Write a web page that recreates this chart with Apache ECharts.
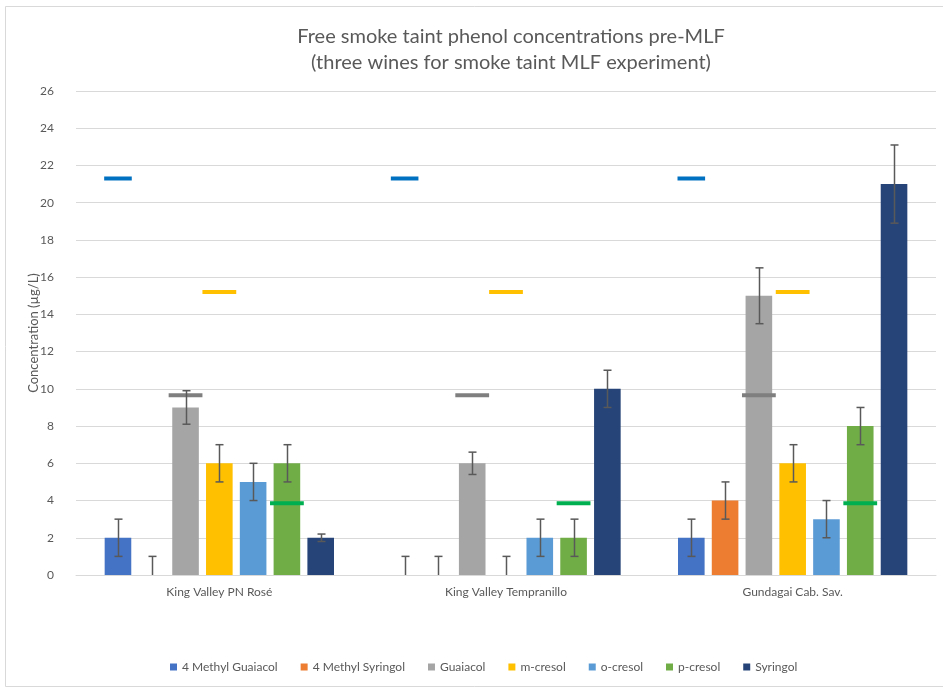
<!DOCTYPE html>
<html>
<head>
<meta charset="utf-8">
<script src="https://cdn.jsdelivr.net/npm/echarts@6/dist/echarts.min.js"></script>
<style>
html,body{margin:0;padding:0;background:#fff;}
#chart{width:943px;height:688px;}
</style>
</head>
<body>
<div id="chart"></div>
<script>
// ---- data ----
const categories = ['King Valley PN Rosé', 'King Valley Tempranillo', 'Gundagai Cab. Sav.'];
const seriesNames = ['4 Methyl Guaiacol', '4 Methyl Syringol', 'Guaiacol', 'm-cresol', 'o-cresol', 'p-cresol', 'Syringol'];

const methylGuaiacol = [2, 0, 2];
const methylSyringol = [0, 0, 4];
const guaiacol = [9, 6, 15];
const mCresol = [6, 0, 6];
const oCresol = [5, 2, 3];
const pCresol = [6, 2, 8];
const syringol = [2, 10, 21];

const methylGuaiacolErr = [1, 1, 1];
const methylSyringolErr = [1, 1, 1];
const guaiacolErr = [0.9, 0.6, 1.5];
const mCresolErr = [1, 1, 1];
const oCresolErr = [1, 1, 1];
const pCresolErr = [1, 1, 1];
const syringolErr = [0.2, 1, 2.1];

// sensory thresholds (drawn as short dashes over the matching compound)
const thresholdCompound = [0, 3, 2, 5];
const thresholdValues = [21.3, 15.2, 9.65, 3.85];

const yTicks = { min: 0, max: 26, interval: 2 };

// ---- styling ----
const barColors = ['#4472C4', '#ED7D31', '#A5A5A5', '#FFC000', '#5B9BD5', '#70AD47', '#264478'];
const thresholdColors = ['#0070C0', '#FFC000', '#7F7F7F', '#00B050'];
const thresholdFull = [false, true, true, true];
const textColor = '#595959';
const FONT = 'Lato';
const CAT_GAP = 0.20, BAR_GAP = 0.27;
const GRID = { left: 76, right: 7, top: 91, bottom: 113 };

const allValues = [methylGuaiacol, methylSyringol, guaiacol, mCresol, oCresol, pCresol, syringol];
const allErrors = [methylGuaiacolErr, methylSyringolErr, guaiacolErr, mCresolErr, oCresolErr, pCresolErr, syringolErr];
const nBars = seriesNames.length;

function barLayout(api) {
  const band = api.size([1, 0])[0];
  const remained = band * (1 - CAT_GAP);
  const w = remained / (nBars + (nBars - 1) * BAR_GAP);
  const step = w * (1 + BAR_GAP);
  const total = nBars * w + (nBars - 1) * w * BAR_GAP;
  return { w: w, step: step, start: -total / 2 };
}

const errData = [];
allValues.forEach((arr, s) => arr.forEach((v, c) => errData.push([c, v, s, allErrors[s][c]])));

const thrData = [];
categories.forEach((_, c) => thresholdValues.forEach((v, t) => thrData.push([c, v, t])));

const barSeries = seriesNames.map((name, i) => ({
  name: name,
  type: 'bar',
  data: allValues[i],
  itemStyle: { color: barColors[i] },
  barGap: (BAR_GAP * 100) + '%',
  barCategoryGap: (CAT_GAP * 100) + '%',
  z: 2
}));

const W = 943;
const plotCenter = GRID.left + (W - GRID.left - GRID.right) / 2;

const chart = echarts.init(document.getElementById('chart'), null, { renderer: 'canvas' });
chart.setOption({
  animation: false,
  backgroundColor: '#fff',
  graphic: [{
    type: 'rect',
    shape: { x: 5.5, y: 6.5, width: 960, height: 680 },
    style: { fill: 'none', stroke: '#D9D9D9', lineWidth: 1 },
    silent: true, z: -10
  }],
  title: {
    text: 'Free smoke taint phenol concentrations pre-MLF\n(three wines for smoke taint MLF experiment)',
    left: plotCenter,
    textAlign: 'center',
    top: 19,
    textStyle: { fontFamily: FONT, fontSize: 20, fontWeight: 'normal', color: textColor, lineHeight: 26 }
  },
  legend: {
    data: seriesNames,
    bottom: 10,
    left: 165,
    icon: 'rect',
    itemWidth: 7,
    itemHeight: 7,
    itemGap: 23,
    textStyle: { fontFamily: FONT, fontSize: 12, color: textColor }
  },
  grid: Object.assign({ outerBoundsMode: 'none', containLabel: false }, GRID),
  xAxis: {
    type: 'category',
    data: categories,
    axisTick: { show: false },
    axisLine: { lineStyle: { color: '#D9D9D9', width: 1 } },
    axisLabel: { fontFamily: FONT, fontSize: 12, color: textColor, margin: 11 }
  },
  yAxis: {
    type: 'value',
    min: yTicks.min, max: yTicks.max, interval: yTicks.interval,
    name: 'Concentration (µg/L)',
    nameLocation: 'middle',
    nameGap: 36,
    nameMoveOverlap: false,
    nameTextStyle: { fontFamily: FONT, fontSize: 13, color: textColor },
    axisLabel: { fontFamily: FONT, fontSize: 12, color: textColor, margin: 22 },
    splitLine: { lineStyle: { color: '#D9D9D9', width: 1 } },
    axisLine: { show: false },
    axisTick: { show: false }
  },
  series: barSeries.concat([
    {
      type: 'custom',
      name: 'thresholds',
      data: thrData,
      encode: { x: 0, y: 1 },
      z: 3,
      silent: true,
      renderItem: function (params, api) {
        const c = api.value(0), v = api.value(1), t = api.value(2);
        const L = barLayout(api);
        const slot = thresholdCompound[t];
        const cx = api.coord([c, 0])[0] + L.start + slot * L.step + L.w / 2;
        const y = api.coord([c, v])[1];
        const w = thresholdFull[t] ? L.step : L.w + 1;
        return {
          type: 'rect',
          shape: { x: cx - w / 2, y: y - 2, width: w, height: 4 },
          style: { fill: thresholdColors[t] }
        };
      }
    },
    {
      type: 'custom',
      name: 'errors',
      data: errData,
      encode: { x: 0, y: 1 },
      z: 4,
      silent: true,
      renderItem: function (params, api) {
        const c = api.value(0), v = api.value(1), s = api.value(2), e = api.value(3);
        const L = barLayout(api);
        const cx = Math.round(api.coord([c, 0])[0] + L.start + s * L.step + L.w / 2) + 0.5;
        const yTop = api.coord([c, v + e])[1];
        const lowVal = Math.max(0, v - e);
        const yBot = api.coord([c, lowVal])[1];
        const cap = 4;
        const st = { stroke: '#595959', lineWidth: 1.5 };
        const children = [
          { type: 'line', shape: { x1: cx, y1: yTop, x2: cx, y2: yBot }, style: st },
          { type: 'line', shape: { x1: cx - cap, y1: yTop, x2: cx + cap, y2: yTop }, style: st }
        ];
        if (v - e > 0) {
          children.push({ type: 'line', shape: { x1: cx - cap, y1: yBot, x2: cx + cap, y2: yBot }, style: st });
        }
        return { type: 'group', children: children };
      }
    }
  ])
});
</script>
</body>
</html>
